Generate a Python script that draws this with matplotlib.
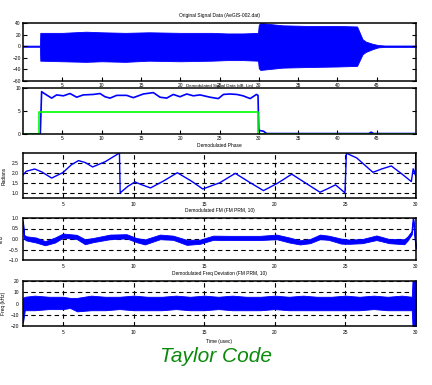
import numpy as np
import matplotlib
matplotlib.use("Agg")
import matplotlib.pyplot as plt

plt.rcParams['font.family'] = ['Liberation Sans', 'DejaVu Sans']

# --- data ---
# original signal: envelope of the sampled trace
sig_t = [0, 2.15, 2.2, 5, 8, 10, 13, 16, 20, 24, 26, 28, 29.9, 30.0, 30.2, 33, 36, 40, 42.5, 43.2, 43.6, 44.5, 45.2, 46, 50]
sig_hi = [1, 1, 23, 23, 25, 24, 23, 24, 23, 23, 22, 22, 23, 37, 40, 36, 35, 35, 34, 12, 8, 4, 2, 1.2, 1.2]
sig_lo = [-1, -1, -25, -26, -27, -26, -27, -25, -26, -25, -24, -24, -25, -38, -41, -37, -36, -35, -34, -14, -10, -5, -2, -1.2, -1.2]

# demodulated amplitude + gate
amp_t = [0, 2.2, 2.37, 2.8, 3.65, 4.28, 5.13, 5.98, 6.83, 7.67, 8.95, 9.8, 10.43, 11.07, 11.92,
         13.19, 14.03, 15.31, 16.58, 17.43, 18.28, 19.12, 19.97, 20.83, 21.67, 22.52, 23.79,
         24.85, 25.5, 26.3, 27.2, 28.0, 28.9, 29.7, 29.9, 30.0, 30.6, 31, 40, 44, 44.3, 44.6, 50]
amp_v = [0, 0, 9.2, 8.7, 7.8, 8.5, 8.3, 8.8, 8.0, 8.5, 8.6, 8.8, 8.1, 7.8, 8.4,
         8.4, 7.9, 8.7, 9.0, 8.0, 7.8, 8.6, 8.1, 8.7, 8.3, 8.5, 8.0,
         7.7, 8.6, 8.7, 8.6, 8.3, 7.7, 8.6, 8.4, 0.8, 0.6, 0.1, 0.1, 0.1, 0.4, 0.1, 0.1]
gate_t = [0, 2.08, 2.08, 29.9, 29.9, 50]
gate_v = [0, 0, 4.7, 4.7, 0, 0]

# demodulated phase (radians)
ph_t = [2.17, 2.4, 3.0, 3.5, 4.2, 5.0, 5.6, 6.1, 6.6, 7.1, 8.0, 9.0, 9.05, 9.6, 10.1, 10.6,
        11.2, 12.1, 13.1, 14.1, 14.9, 16.1, 17.2, 18.2, 19.2, 20.2, 21.2, 22.2, 23.2, 23.8,
        24.3, 24.97, 25.07, 25.8, 26.95, 27.6, 28.25, 29.0, 29.67, 29.8, 29.95, 30.0, 30.0]
ph_v = [1.9, 2.08, 2.19, 2.05, 1.75, 2.02, 2.4, 2.6, 2.5, 2.29, 2.55, 2.97, 1.03, 1.35, 1.56, 1.42,
        1.27, 1.6, 2.01, 1.6, 1.22, 1.52, 1.98, 1.55, 1.14, 1.5, 1.94, 1.5, 1.06, 1.25,
        1.42, 1.03, 2.96, 2.73, 2.03, 2.2, 2.34, 1.95, 1.58, 2.2, 1.9, 2.95, 0.8]

# demodulated FM (kHz): band centre and half width
fm_t = [2.17, 2.25, 2.4, 3.1, 3.73, 4.43, 5.0, 5.97, 6.56, 7.15, 8.33, 9.5, 10.2, 10.8, 11.87,
        12.8, 13.76, 14.7, 15.64, 16.83, 18.95, 20.13, 21.04, 21.78, 22.5, 23.2, 23.8, 24.7,
        25.28, 26.2, 27.2, 28.1, 29.17, 29.4, 29.7, 29.8, 29.9, 30.0]
fm_c = [0.82, 0.1, 0.03, -0.05, -0.2, -0.05, 0.16, 0.1, -0.13, -0.05, 0.1, 0.13, -0.05, -0.14, 0.1,
        0.06, -0.16, -0.13, 0.06, 0.05, 0.05, 0.1, -0.05, -0.16, -0.1, 0.1, 0.06, -0.1,
        -0.13, -0.1, 0.06, -0.1, -0.13, 0.02, 0.3, 1.0, 0.2, -0.44]
fm_w = [0.02, 0.1, 0.1, 0.12, 0.1, 0.12, 0.1, 0.1, 0.12, 0.1, 0.11, 0.1, 0.1, 0.12, 0.11,
        0.1, 0.12, 0.1, 0.1, 0.1, 0.1, 0.11, 0.12, 0.1, 0.1, 0.11, 0.1, 0.12,
        0.1, 0.1, 0.11, 0.1, 0.12, 0.1, 0.08, 0.02, 0.08, 0.02]

# demodulated frequency deviation (kHz): upper / lower envelope
fd_t = [2.17, 2.3, 3, 4, 5, 5.5, 6, 7, 8, 9, 10, 11, 12, 13, 14, 15, 16, 17, 18, 19, 20,
        21, 22, 23, 24, 25, 26, 27, 28, 29, 29.7, 29.75, 30]
fd_hi = [5, 6, 7, 6, 6, 5, 5, 7, 6, 6, 7, 6, 6, 7, 6, 7, 6, 7, 6, 6, 7,
         6, 7, 6, 6, 7, 6, 7, 6, 7, 6, 20, 20]
fd_lo = [-17, -6, -6, -5, -5, -4, -7, -6, -6, -5, -6, -6, -6, -5, -6, -6, -5, -6, -6, -6, -5,
         -6, -6, -6, -6, -6, -6, -5, -6, -6, -6, -20, -20]

BLUE = '#0000ff'
W, H = 432, 385


def make_ax(l, t, r, b):
    return fig.add_axes([l / W, 1 - b / H, (r - l) / W, (b - t) / H])


def style(ax, grid=False):
    for s in ax.spines.values():
        s.set_linewidth(1.1)
    ax.tick_params(direction='in', labelsize=3.5, length=3, width=0.8, pad=1.5,
                   right=True)
    if grid:
        ax.set_axisbelow(True)
        ax.grid(True, color='black', linestyle=(0, (4, 3)), linewidth=0.8)
        ax.tick_params(length=0, pad=3)


fig = plt.figure(figsize=(W / 100, H / 100), dpi=100)

ax1 = make_ax(23, 23, 416, 81)
ax1.fill_between(sig_t, sig_lo, sig_hi, color=BLUE, linewidth=0.6, edgecolor=BLUE)
ax1.set_xlim(0, 50)
ax1.set_ylim(-60, 40)
ax1.set_yticks([-60, -40, -20, 0, 20, 40])
ax1.set_xticks(range(5, 50, 5))
ax1.set_title('Original Signal Data (AeGIS-002.dat)', fontsize=3.5, pad=4)
style(ax1)

ax2 = make_ax(23, 88, 416, 134)
ax2.plot(amp_t, amp_v, color=BLUE, linewidth=1.2)
ax2.plot(gate_t, gate_v, color='#00ff00', linewidth=1.2)
ax2.set_xlim(0, 50)
ax2.set_ylim(0, 10)
ax2.set_yticks([0, 5, 10])
ax2.set_xticks(range(5, 50, 5))
ax2.set_title('Demodulated Signal Data (dB, Lin)', fontsize=3.2, pad=0.5)
style(ax2)

ax3 = make_ax(23, 153, 416, 198)
ax3.plot(ph_t, ph_v, color=BLUE, linewidth=1.0)
ax3.set_xlim(2.17, 30)
ax3.set_ylim(0.78, 2.97)
ax3.set_yticks([1, 1.5, 2, 2.5])
ax3.set_xticks(range(5, 31, 5))
ax3.set_ylabel('Radians', fontsize=3.5, labelpad=4)
ax3.set_title('Demodulated Phase', fontsize=3.5, pad=4)
style(ax3, grid=True)

ax4 = make_ax(23, 218, 416, 260)
fm_c = np.array(fm_c)
fm_w = np.array(fm_w)
ax4.fill_between(fm_t, fm_c - fm_w, fm_c + fm_w, color=BLUE, linewidth=0.6, edgecolor=BLUE)
ax4.plot(fm_t, fm_c, color=BLUE, linewidth=0.6)
ax4.set_xlim(2.17, 30)
ax4.set_ylim(-1, 1)
ax4.set_yticks([-1, -0.5, 0, 0.5, 1])
ax4.set_xticks(range(5, 31, 5))
ax4.set_ylabel('kHz', fontsize=3.5, labelpad=4)
ax4.set_title('Demodulated FM (FM PRM, 10)', fontsize=3.5, pad=4)
style(ax4, grid=True)

ax5 = make_ax(23, 281, 416, 326)
ax5.fill_between(fd_t, fd_lo, fd_hi, color=BLUE, linewidth=0.6, edgecolor=BLUE)
ax5.set_xlim(2.17, 30)
ax5.set_ylim(-20, 20)
ax5.set_yticks([-20, -10, 0, 10, 20])
ax5.set_xticks(range(5, 31, 5))
ax5.set_ylabel('Freq (kHz)', fontsize=3.5, labelpad=3)
ax5.set_xlabel('Time (usec)', fontsize=3.5, labelpad=3)
ax5.set_title('Demodulated Freq Deviation (FM PRM, 10)', fontsize=3.5, pad=4)
style(ax5, grid=True)

fig.text(216 / W, 1 - 357 / H, 'Taylor Code', color='#0a8a0a', fontsize=15,
         style='italic', ha='center', va='center')

fig.savefig('out.png', dpi=100)
